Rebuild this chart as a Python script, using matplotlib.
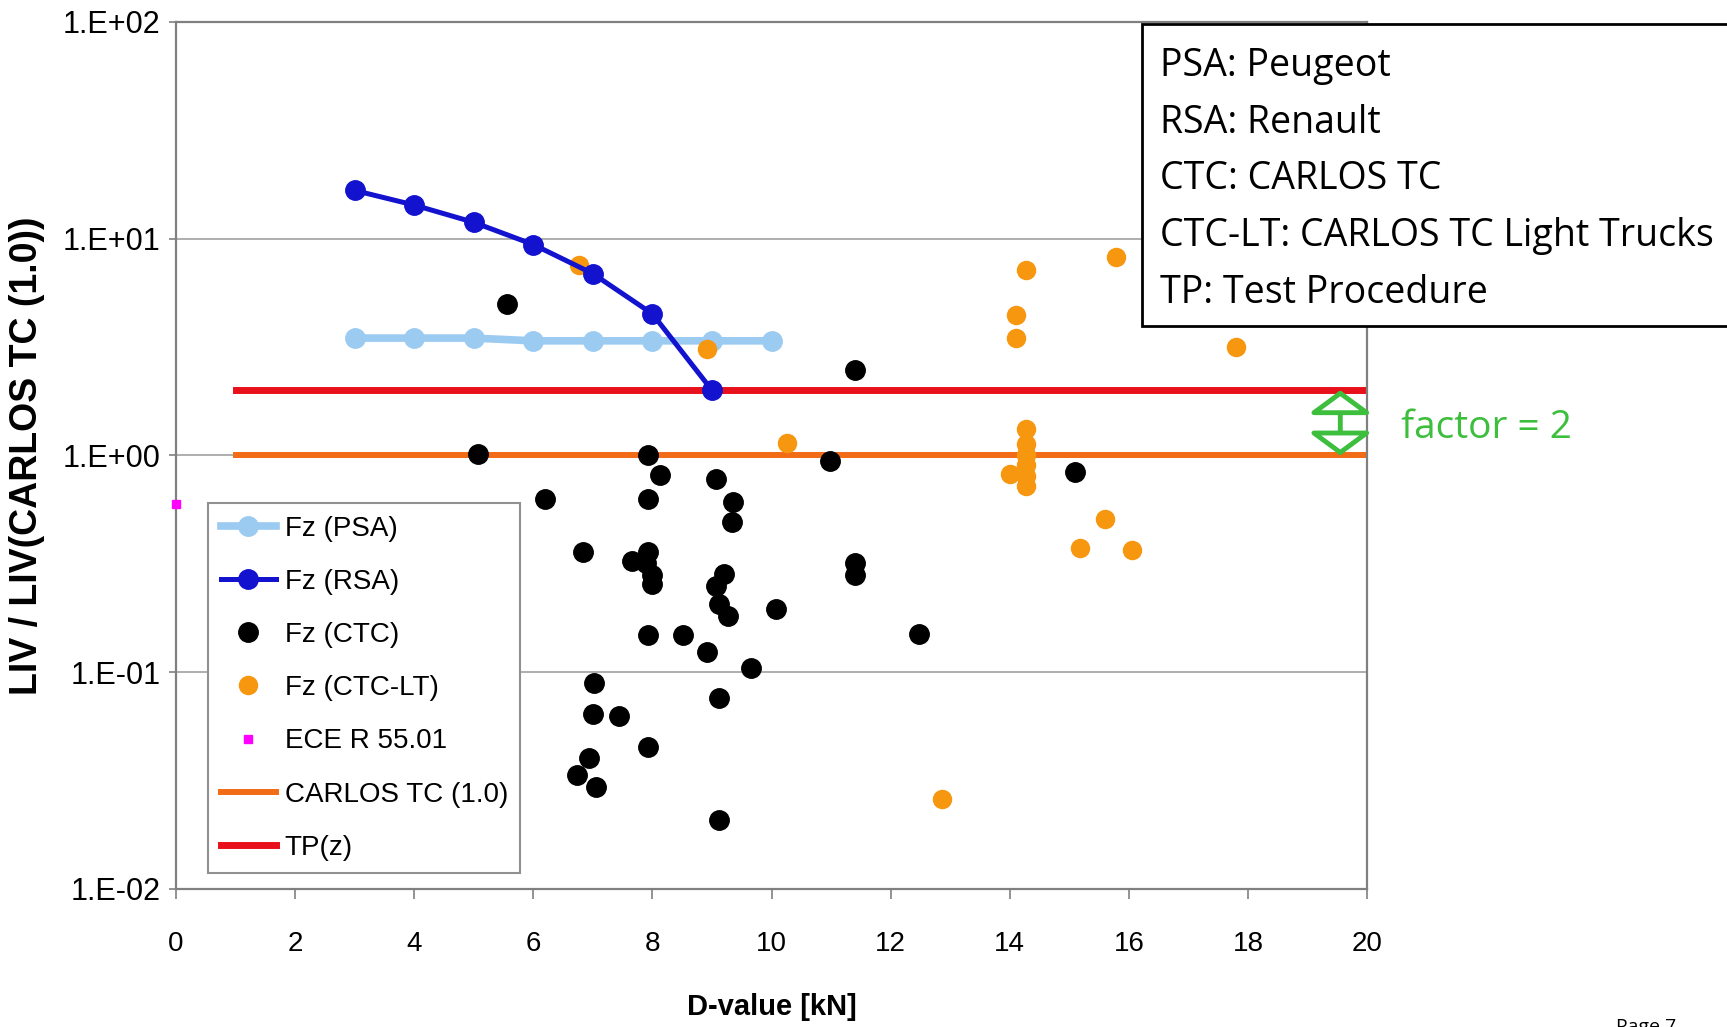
import matplotlib
matplotlib.use('Agg')
import matplotlib.pyplot as plt
from matplotlib.patches import Rectangle
from matplotlib.ticker import NullLocator

# data
psa_x = [3, 4, 5, 6, 7, 8, 9, 10]
psa_y = [3.48, 3.48, 3.48, 3.38, 3.38, 3.38, 3.38, 3.38]

rsa_x = [3, 4, 5, 6, 7, 8, 9]
rsa_y = [16.7, 14.3, 11.9, 9.4, 6.9, 4.5, 2.0]

ctc_x = [5.56, 5.07, 6.2, 6.84, 7.93, 8.13, 7.93, 7.66, 7.93, 7.9, 8.0, 8.0,
         7.93, 8.52, 8.91, 9.06, 9.36, 9.33, 9.21, 9.06, 9.12, 9.27, 9.66,
         10.08, 11.4, 10.98, 11.4, 11.4, 12.48, 15.09, 7.02, 7.0, 7.44, 9.12,
         7.93, 6.94, 6.74, 7.05, 9.12]
ctc_y = [5.0, 1.02, 0.63, 0.357, 1.0, 0.81, 0.63, 0.325, 0.36, 0.32, 0.28, 0.255,
         0.149, 0.149, 0.124, 0.78, 0.61, 0.494, 0.284, 0.251, 0.207, 0.181, 0.105,
         0.195, 2.47, 0.94, 0.319, 0.28, 0.15, 0.84, 0.0895, 0.0645, 0.0627, 0.076,
         0.045, 0.0403, 0.0335, 0.0296, 0.0207]

lt_x = [6.77, 8.91, 10.26, 12.87, 14.0, 14.1, 14.1, 14.28, 14.28, 14.28, 14.28,
        14.28, 14.28, 14.28, 15.18, 15.6, 15.78, 16.05, 17.8]
lt_y = [7.6, 3.1, 1.14, 0.026, 0.82, 4.45, 3.5, 7.2, 1.33, 1.13, 1.0,
        0.9, 0.8, 0.72, 0.376, 0.507, 8.2, 0.368, 3.17]

ece_x = [0]
ece_y = [0.6]

carlos_x = [1, 20]
carlos_y = [1, 1]
tp_x = [1, 20]
tp_y = [2, 2]

xticks = [0, 2, 4, 6, 8, 10, 12, 14, 16, 18, 20]
yticks = [0.01, 0.1, 1, 10, 100]
ytick_labels = ['1.E-02', '1.E-01', '1.E+00', '1.E+01', '1.E+02']

box_lines = ['PSA: Peugeot', 'RSA: Renault', 'CTC: CARLOS TC',
             'CTC-LT: CARLOS TC Light Trucks', 'TP: Test Procedure']

plt.rcParams['font.family'] = ['Liberation Sans', 'DejaVu Sans']

fig = plt.figure(figsize=(17.27, 10.27), dpi=100)
ax = fig.add_axes([0.1019, 0.1344, 0.6897, 0.8442])

tp_line, = ax.plot(tp_x, tp_y, color='#E8101A', lw=5, zorder=2, label='TP(z)')
carlos_line, = ax.plot(carlos_x, carlos_y, color='#F26B16', lw=4.3, zorder=2,
                       label='CARLOS TC (1.0)')
psa_line, = ax.plot(psa_x, psa_y, color='#9CCBF2', lw=5.5, marker='o', ms=14,
                    zorder=3, label='Fz (PSA)')
ctc_pts, = ax.plot(ctc_x, ctc_y, ls='none', marker='o', ms=14, color='black',
                   zorder=4, label='Fz (CTC)')
lt_pts, = ax.plot(lt_x, lt_y, ls='none', marker='o', ms=13, color='#F7960F',
                  zorder=4, label='Fz (CTC-LT)')
rsa_line, = ax.plot(rsa_x, rsa_y, color='#1212CF', lw=3.6, marker='o', ms=14,
                    zorder=5, label='Fz (RSA)')
ece_pts, = ax.plot(ece_x, ece_y, ls='none', marker='s', ms=6, color='#FF00FF',
                   zorder=6, clip_on=False, label='ECE R 55.01')

ax.set_yscale('log')
ax.set_xlim(0, 20)
ax.set_ylim(0.01, 100)
ax.set_xticks(xticks)
ax.set_xticklabels([str(t) for t in xticks], fontsize=20)
ax.set_yticks(yticks)
ax.set_yticklabels(ytick_labels, fontsize=22)
ax.yaxis.set_minor_locator(NullLocator())
ax.tick_params(axis='x', length=7, width=1.2, color='#808080', pad=23)
ax.tick_params(axis='y', length=5, width=1.2, color='#808080', pad=6)
ax.yaxis.grid(True, color='#a8a8a8', lw=1.3)
ax.set_axisbelow(True)
for s in ax.spines.values():
    s.set_color('#808080')
    s.set_linewidth(1.6)

ax.set_xlabel('D-value [kN]', fontsize=21, fontweight='bold')
ax.xaxis.set_label_coords(0.5, -0.12)
ax.set_ylabel('LIV / LIV(CARLOS TC (1.0))', fontsize=27, fontweight='bold')
ax.yaxis.set_label_coords(-0.11, 0.5)

leg = ax.legend(handles=[psa_line, rsa_line, ctc_pts, lt_pts, ece_pts, carlos_line, tp_line],
                loc='lower left', bbox_to_anchor=(0.027, 0.018), borderaxespad=0,
                fontsize=20, frameon=True, fancybox=False, edgecolor='#909090',
                framealpha=1, handlelength=2.0, handletextpad=0.3,
                labelspacing=0.98, borderpad=0.45)
leg.get_frame().set_linewidth(1.5)

# factor = 2 arrow
ax.annotate('', xy=(19.55, 2), xytext=(19.55, 1),
            arrowprops=dict(arrowstyle='<|-|>,head_length=0.7,head_width=0.95',
                            mutation_scale=20, color='#3DBE3D', fc='white', lw=3.5,
                            shrinkA=0, shrinkB=0), zorder=6)
fig.text(0.8112, 0.583, 'factor = 2', fontsize=28, color='#3DBE3D',
         family=['Open Sans', 'DejaVu Sans'], va='center', ha='left')

# abbreviations box in the top right, running off the page edge
box = Rectangle((0.6612, 0.6826), 0.36, 0.294, transform=fig.transFigure,
                facecolor='white', edgecolor='black', lw=2, zorder=10, clip_on=False)
fig.add_artist(box)
for i, line in enumerate(box_lines):
    fig.text(0.6718, 0.9355 - i * 0.0551, line, fontsize=27, color='black',
             family=['Open Sans', 'DejaVu Sans'], va='center', ha='left', zorder=11)

fig.text(0.936, 0.0, 'Page 7', fontsize=14, va='center', ha='left',
         family=['Open Sans', 'DejaVu Sans'])

fig.savefig('out.png', dpi=100)
